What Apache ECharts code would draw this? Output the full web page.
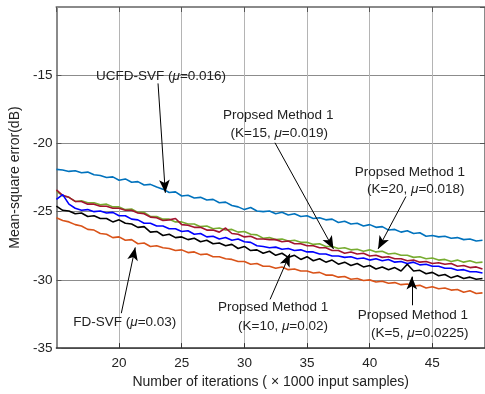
<!DOCTYPE html>
<html>
<head>
<meta charset="utf-8">
<script src="https://cdn.jsdelivr.net/npm/echarts@6/dist/echarts.min.js"></script>
<style>
  html, body { margin: 0; padding: 0; background: #fff; }
  #chart { width: 485px; height: 394px; }
</style>
</head>
<body>
<div id="chart"></div>
<script>
// Iteration count (x 1000 input samples)
const iterations = [
  15, 15.5, 16, 16.5, 17, 17.5, 18, 18.5, 19, 19.5,
  20, 20.5, 21, 21.5, 22, 22.5, 23, 23.5, 24, 24.5,
  25, 25.5, 26, 26.5, 27, 27.5, 28, 28.5, 29, 29.5,
  30, 30.5, 31, 31.5, 32, 32.5, 33, 33.5, 34, 34.5,
  35, 35.5, 36, 36.5, 37, 37.5, 38, 38.5, 39, 39.5,
  40, 40.5, 41, 41.5, 42, 42.5, 43, 43.5, 44, 44.5,
  45, 45.5, 46, 46.5, 47, 47.5, 48, 48.5, 49
];

// Mean-square error curves (dB)
const ucfdSvf = [
  -21.9, -21.95, -22.05, -22.0, -22.15, -22.1, -22.3, -22.35, -22.5, -22.45,
  -22.7, -22.6, -22.85, -22.8, -23.05, -23.0, -23.2, -23.35, -23.6, -23.55,
  -23.85, -23.8, -24.0, -23.95, -24.15, -24.1, -24.35, -24.3, -24.55, -24.65,
  -24.85, -24.7, -24.95, -25.0, -24.95, -25.15, -25.05, -25.25, -25.15, -25.35,
  -25.3, -25.5, -25.45, -25.6, -25.55, -25.8, -25.7, -25.9, -25.85, -26.05,
  -25.95, -26.15, -26.1, -26.35, -26.3, -26.5, -26.4, -26.6, -26.55, -26.8,
  -26.75, -26.85, -26.8, -26.95, -26.9, -27.05, -27.0, -27.15, -27.1
];
const fdSvf = [
  -25.45, -25.65, -25.75, -25.95, -26.05, -26.3, -26.35, -26.6, -26.65, -26.9,
  -26.85, -27.1, -27.05, -27.35, -27.3, -27.55, -27.5, -27.65, -27.7, -27.85,
  -27.8, -28.0, -27.95, -28.15, -28.1, -28.3, -28.3, -28.45, -28.5, -28.65,
  -28.65, -28.85, -28.8, -29.0, -29.0, -29.15, -29.05, -29.25, -29.2, -29.35,
  -29.35, -29.5, -29.45, -29.65, -29.65, -29.8, -29.75, -29.95, -29.9, -30.05,
  -30.0, -30.15, -30.1, -30.25, -30.2, -30.35, -30.3, -30.45, -30.4, -30.6,
  -30.5, -30.65, -30.6, -30.75, -30.7, -30.9, -30.8, -31.0, -30.95
];
const methodK5 = [
  -24.6, -24.9, -24.95, -25.15, -25.1, -25.35, -25.3, -25.5, -25.5, -25.75,
  -25.6, -25.85, -25.9, -26.15, -26.1, -26.5, -26.45, -26.75, -26.65, -26.9,
  -26.85, -27.05, -26.95, -27.2, -27.1, -27.35, -27.3, -27.5, -27.4, -27.7,
  -27.55, -27.85, -27.8, -28.05, -27.9, -28.2, -28.05, -28.35, -28.2, -28.5,
  -28.3, -28.6, -28.45, -28.7, -28.55, -28.85, -28.7, -28.95, -28.8, -29.05,
  -28.95, -29.2, -29.05, -29.25, -29.1, -29.35, -28.85, -29.35, -29.3, -29.55,
  -29.45, -29.7, -29.6, -29.85, -29.7, -29.9, -29.8, -29.95, -29.9
];
const methodK10 = [
  -24.1, -23.75, -24.45, -24.75, -24.9, -24.85, -25.0, -24.95, -25.1, -25.05,
  -25.3, -25.3, -25.55, -25.6, -25.85, -25.85, -26.05, -26.05, -26.25, -26.25,
  -26.45, -26.4, -26.65, -26.6, -26.85, -26.8, -27.0, -26.9, -27.1, -27.0,
  -27.2, -27.25, -27.5, -27.55, -27.65, -27.6, -27.75, -27.7, -27.85, -27.8,
  -27.95, -27.95, -28.1, -28.1, -28.25, -28.25, -28.35, -28.3, -28.45, -28.4,
  -28.55, -28.45, -28.6, -28.5, -28.7, -28.65, -28.8, -28.7, -28.9, -28.85,
  -29.0, -29.0, -29.15, -29.15, -29.3, -29.25, -29.4, -29.4, -29.5
];
const methodK15 = [
  -23.4, -23.8, -23.95, -24.25, -24.25, -24.45, -24.45, -24.6, -24.6, -24.75,
  -24.75, -24.9, -24.9, -25.1, -25.15, -25.4, -25.45, -25.65, -25.6, -25.5,
  -25.95, -26.0, -26.15, -26.15, -26.35, -26.35, -26.5, -26.2, -26.6, -26.65,
  -26.85, -26.8, -27.0, -27.0, -27.05, -27.05, -27.2, -27.15, -27.35, -27.35,
  -27.5, -27.5, -27.65, -27.65, -27.85, -27.85, -28.05, -27.95, -28.1, -28.05,
  -28.25, -28.2, -28.35, -28.3, -28.45, -28.45, -28.6, -28.55, -28.7, -28.65,
  -28.8, -28.75, -28.85, -28.8, -29.0, -28.95, -29.1, -29.05, -29.2
];
const methodK20 = [
  -23.5, -23.85, -23.95, -24.25, -24.2, -24.35, -24.35, -24.5, -24.45, -24.65,
  -24.65, -24.85, -24.8, -25.05, -25.05, -25.35, -25.35, -25.55, -25.55, -25.75,
  -25.75, -25.9, -25.9, -26.1, -26.05, -26.25, -26.2, -26.35, -26.3, -26.5,
  -26.45, -26.65, -26.7, -26.95, -26.9, -27.05, -27.0, -27.15, -27.1, -27.25,
  -27.25, -27.4, -27.35, -27.55, -27.55, -27.7, -27.65, -27.8, -27.75, -27.9,
  -27.8, -27.95, -27.9, -28.1, -28.05, -28.2, -28.2, -28.35, -28.3, -28.45,
  -28.4, -28.55, -28.5, -28.65, -28.55, -28.7, -28.6, -28.75, -28.7
];

// Axis ranges and ticks
const xRange = [15, 49.2];
const yRange = [-35, -10];
const xStep = 5;
const yStep = 5;

// Callouts: text lines [x, y, text-parts] and arrows [from, to] in data units
const callouts = [
  { lines: [[23.35, -15.06, ['UCFD-SVF (', 'μ', '=0.016)']]],
    arrow: [[23.11, -15.6], [23.69, -23.62]] },
  { lines: [[32.7, -17.96, ['Propsed Method 1']], [32.78, -19.27, ['(K=15, ', 'μ', '=0.019)']]],
    arrow: [[32.44, -19.95], [37.11, -27.73]] },
  { lines: [[43.2, -22.08, ['Propsed Method 1']], [43.68, -23.38, ['(K=20, ', 'μ', '=0.018)']]],
    arrow: [[42.89, -23.89], [40.67, -27.73]] },
  { lines: [[32.29, -32.0, ['Propsed Method 1']], [33.08, -33.38, ['(K=10, ', 'μ', '=0.02)']]],
    arrow: [[32.05, -31.43], [33.63, -28.09]] },
  { lines: [[43.44, -32.59, ['Propsed Method 1']], [43.99, -33.89, ['(K=5, ', 'μ', '=0.0225)']]],
    arrow: [[43.36, -31.86], [43.36, -29.76]] },
  { lines: [[20.46, -33.09, ['FD-SVF (', 'μ', '=0.03)']]],
    arrow: [[20.18, -32.44], [21.29, -27.62]] }
];

const FONT = '"Liberation Sans", Arial, Helvetica, sans-serif';
const TEXT = '#222222';

function pairs(ys) {
  return iterations.map((x, i) => [x, ys[i]]);
}

function curve(name, ys, color, extra) {
  return Object.assign({
    name: name,
    type: 'line',
    data: pairs(ys),
    showSymbol: false,
    symbol: 'none',
    lineStyle: { color: color, width: 1.6 },
    itemStyle: { color: color },
    silent: true,
    z: 3
  }, extra || {});
}

const arrowLines = callouts.map(c => [
  { coord: c.arrow[0] },
  { coord: c.arrow[1] }
]);

const chart = echarts.init(document.getElementById('chart'), null, { renderer: 'canvas' });

chart.setOption({
  animation: false,
  backgroundColor: '#ffffff',
  grid: { left: 53, right: 0, top: 7, bottom: 44 },
  xAxis: [{
    type: 'value',
    position: 'bottom',
    min: xRange[0], max: xRange[1], interval: xStep,
    name: 'Number of iterations ( × 1000 input samples)',
    nameLocation: 'middle',
    nameGap: 25,
    nameTextStyle: { fontFamily: FONT, fontSize: 14, color: TEXT },
    axisLine: { show: true, onZero: false, lineStyle: { color: '#333333', width: 1.5 } },
    axisTick: { show: true, inside: true, length: 5, lineStyle: { color: '#333333' } },
    axisLabel: { fontFamily: FONT, fontSize: 13.5, color: TEXT, margin: 8, showMinLabel: false, showMaxLabel: false },
    splitLine: { show: true, lineStyle: { color: '#b4b4b4', width: 1 } }
  }, {
    type: 'value',
    position: 'top',
    min: xRange[0], max: xRange[1], interval: xStep,
    axisLine: { show: true, onZero: false, lineStyle: { color: '#8a8a8a', width: 2 } },
    axisTick: { show: true, inside: true, length: 5, lineStyle: { color: '#555555' } },
    axisLabel: { show: false },
    splitLine: { show: false }
  }],
  yAxis: [{
    type: 'value',
    position: 'left',
    min: yRange[0], max: yRange[1], interval: yStep,
    name: 'Mean-square error(dB)',
    nameLocation: 'middle',
    nameGap: 31,
    nameTextStyle: { fontFamily: FONT, fontSize: 14, color: TEXT },
    axisLine: { show: true, onZero: false, lineStyle: { color: '#8a8a8a', width: 2 } },
    axisTick: { show: true, inside: true, length: 5, lineStyle: { color: '#555555' } },
    axisLabel: { fontFamily: FONT, fontSize: 13.5, color: TEXT, margin: 4, showMaxLabel: false },
    splitLine: { show: true, lineStyle: { color: '#8c8c8c', width: 1 } }
  }, {
    type: 'value',
    position: 'right',
    min: yRange[0], max: yRange[1], interval: yStep,
    axisLine: { show: true, onZero: false, lineStyle: { color: '#8a8a8a', width: 2 } },
    axisTick: { show: true, inside: true, length: 5, lineStyle: { color: '#555555' } },
    axisLabel: { show: false },
    splitLine: { show: false }
  }],
  series: [
    curve('UCFD-SVF', ucfdSvf, '#0072BD', {
      markLine: {
        silent: true,
        symbol: ['none', 'arrow'],
        symbolSize: [8, 13],
        label: { show: false },
        lineStyle: { color: '#000000', width: 1, type: 'solid' },
        emphasis: { disabled: true },
        data: arrowLines,
        z: 10
      }
    }),
    curve('FD-SVF', fdSvf, '#D95319'),
    curve('K=20', methodK20, '#77AC30'),
    curve('K=15', methodK15, '#A2142F'),
    curve('K=10', methodK10, '#0000FF'),
    curve('K=5', methodK5, '#000000')
  ]
});

// Callout texts, positioned from data coordinates
const graphics = [];
callouts.forEach(c => {
  c.lines.forEach(line => {
    const p = chart.convertToPixel({ gridIndex: 0 }, [line[0], line[1]]);
    const parts = line[2];
    const rich = parts.map((t, i) => (i === 1 ? '{m|' + t + '}' : '{t|' + t + '}')).join('');
    graphics.push({
      type: 'text',
      x: p[0], y: p[1],
      z: 20,
      silent: true,
      style: {
        text: rich,
        align: 'center',
        verticalAlign: 'middle',
        rich: {
          t: { fontFamily: FONT, fontSize: 13.5, fill: TEXT, color: TEXT },
          m: { fontFamily: FONT, fontSize: 13.5, fontStyle: 'italic', fill: TEXT, color: TEXT }
        }
      }
    });
  });
});
chart.setOption({ graphic: graphics });
</script>
</body>
</html>
